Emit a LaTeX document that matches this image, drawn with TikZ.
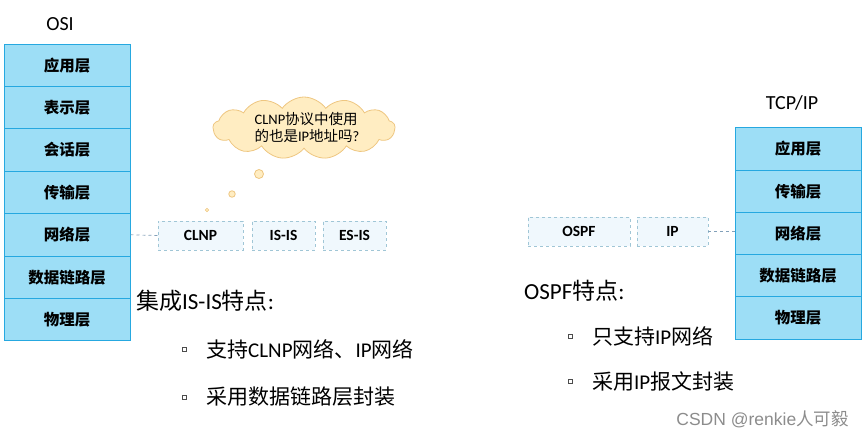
\documentclass[tikz,border=0pt]{standalone}
\usepackage{fontspec}
\setmainfont{Carlito}
\newfontfamily\cjk{Noto Sans CJK SC}
\newfontfamily\wmfont{Liberation Sans}
\usetikzlibrary{shapes.symbols}
\definecolor{stackfill}{RGB}{157,222,246}
\definecolor{stackborder}{RGB}{38,168,224}
\definecolor{protofill}{RGB}{240,248,253}
\definecolor{protoborder}{RGB}{160,198,214}
\definecolor{cloudfill}{RGB}{255,237,194}
\definecolor{cloudborder}{RGB}{238,198,128}
\definecolor{connc}{RGB}{130,160,185}
\newcommand\zh[1]{{\cjk #1}}
\begin{document}
\begin{tikzpicture}[x=1pt,y=-1pt,
  layer/.style={draw=stackborder,line width=1pt,fill=stackfill,minimum width=126pt,minimum height=42.4pt,inner sep=0pt,font=\cjk\bfseries\fontsize{15.5}{18}\selectfont},
  proto/.style={draw=protoborder,dashed,line width=0.9pt,fill=protofill,minimum height=29pt,inner sep=0pt,font=\bfseries\fontsize{15.5}{18}\selectfont},
  conn/.style={draw=connc,dashed,line width=0.7pt},
  title/.style={font=\fontsize{20}{24}\selectfont},
  head/.style={anchor=west,inner sep=0pt,font=\fontsize{23}{27}\selectfont},
  item/.style={anchor=west,inner sep=0pt,font=\fontsize{21}{25}\selectfont},
  bulletbox/.style={draw=black!70,line width=0.5pt,minimum size=4.5pt,inner sep=0pt},
  bubble/.style={draw=cloudborder,fill=cloudfill,line width=0.8pt}]
\useasboundingbox (0,0) rectangle (865,439);

% OSI stack
\node[title] (osilabel) at (60,24) {OSI};
\node[layer] (o1) at (67,65.2) {应用层};
\node[layer] (o2) at (67,107.6) {表示层};
\node[layer] (o3) at (67,150.0) {会话层};
\node[layer] (o4) at (67,192.4) {传输层};
\node[layer] (o5) at (67,234.8) {网络层};
\node[layer] (o6) at (67,277.2) {数据链路层};
\node[layer] (o7) at (67,319.6) {物理层};

% TCP/IP stack
\node[title] (tcplabel) at (792,103) {TCP/IP};
\node[layer] (t1) at (798,148.9) {应用层};
\node[layer] (t2) at (798,191.2) {传输层};
\node[layer] (t3) at (798,233.5) {网络层};
\node[layer] (t4) at (798,275.8) {数据链路层};
\node[layer] (t5) at (798,318.1) {物理层};

% protocol boxes
\node[proto,minimum width=85pt] (clnp) at (200.5,235.5) {CLNP};
\node[proto,minimum width=63pt] (isis) at (283.5,235.5) {IS-IS};
\node[proto,minimum width=63pt] (esis) at (354.5,235.5) {ES-IS};
\node[proto,minimum width=102pt] (ospf) at (579,231.5) {OSPF};
\node[proto,minimum width=71pt] (ip) at (672.5,231.5) {IP};

\draw[conn] (o5.east) -- (clnp.west);
\draw[conn] (ip.east) -- (ip.east -| t3.west);

% thought cloud
\node[cloud,cloud puffs=13,cloud puff arc=110,aspect=3,bubble,minimum width=182pt,minimum height=62pt,inner sep=0pt] (cloud) at (304,128) {};
\node[align=left,inner sep=0pt,font=\fontsize{14.5}{17}\selectfont] (cloudtext) at (307,127) {CLNP\zh{协议中使用}\\\zh{的也是}IP\zh{地址吗}?};
\node[circle,bubble,minimum size=9pt,inner sep=0pt] (b1) at (259,174) {};
\node[circle,bubble,minimum size=6.5pt,inner sep=0pt] (b2) at (232,194) {};
\node[circle,bubble,minimum size=3.5pt,inner sep=0pt,line width=0.6pt] (b3) at (207,210) {};

% IS-IS features
\node[head] (isishead) at (136,301) {\zh{集成}IS-IS\zh{特点}:};
\node[bulletbox] (ib1) at (184,349) {};
\node[item] (it1) at (206,349) {\zh{支持}CLNP\zh{网络、}IP\zh{网络}};
\node[bulletbox] (ib2) at (184,397) {};
\node[item] (it2) at (206,397) {\zh{采用数据链路层封装}};

% OSPF features
\node[head] (ospfhead) at (524,291) {OSPF\zh{特点}:};
\node[bulletbox] (ob1) at (570,336) {};
\node[item] (ot1) at (592,336) {\zh{只支持}IP\zh{网络}};
\node[bulletbox] (ob2) at (570,381) {};
\node[item] (ot2) at (592,381) {\zh{采用}IP\zh{报文封装}};

% watermark
\node[anchor=east,inner sep=0pt,text=black!45,font=\wmfont\fontsize{17.5}{20}\selectfont] (wm) at (849,419) {CSDN @renkie\zh{人可毅}};
\end{tikzpicture}
\end{document}
